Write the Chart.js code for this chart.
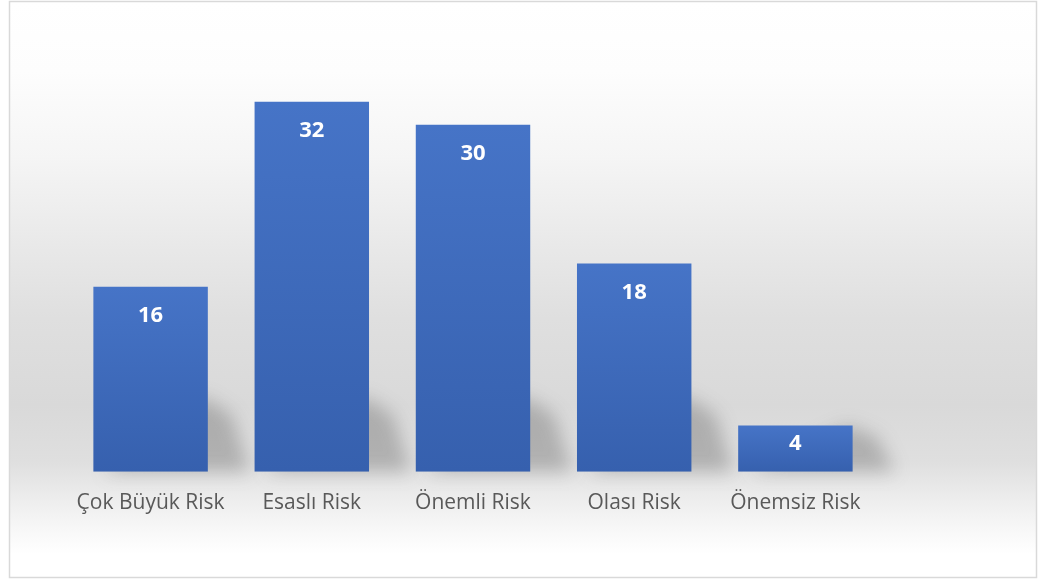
<!DOCTYPE html>
<html>
<head>
<meta charset="utf-8">
<script src="https://cdn.jsdelivr.net/npm/chart.js@4"></script>
<style>
    body { margin: 0; background: #fff; }
    #wrap { width: 1038px; height: 581px; }
</style>
</head>
<body>
<div id="wrap"><canvas id="riskChart" width="1038" height="581"></canvas></div>
<script>
// Chart data
const categories = ['Çok Büyük Risk', 'Esaslı Risk', 'Önemli Risk', 'Olası Risk', 'Önemsiz Risk'];
const riskCounts = [16, 32, 30, 18, 4];
const yMax = 35;

/**
 * Framed panel with a soft grey band behind the bars
 */
const panelBackground = {
    id: 'panelBackground',
    beforeDraw(chart) {
        const ctx = chart.ctx;
        ctx.save();
        ctx.fillStyle = '#ffffff';
        ctx.fillRect(0, 0, chart.width, chart.height);

        const g = ctx.createLinearGradient(0, 2, 0, 577);
        g.addColorStop(0, '#ffffff');
        g.addColorStop(0.12, '#fdfdfd');
        g.addColorStop(0.27, '#f5f5f5');
        g.addColorStop(0.42, '#e9e9e9');
        g.addColorStop(0.55, '#dfdfdf');
        g.addColorStop(0.7, '#d9d9d9');
        g.addColorStop(0.8, '#dfdfdf');
        g.addColorStop(0.86, '#ececec');
        g.addColorStop(0.92, '#f8f8f8');
        g.addColorStop(0.96, '#ffffff');
        g.addColorStop(1, '#ffffff');
        ctx.fillStyle = g;
        ctx.fillRect(10, 2, 1026, 575);

        ctx.strokeStyle = '#d9d9d9';
        ctx.lineWidth = 1.5;
        ctx.strokeRect(9.5, 1.5, 1027, 576);
        ctx.restore();
    }
};

/**
 * Cast shadow behind each bar (drawn before the bars)
 */
const barShadows = {
    id: 'barShadows',
    beforeDatasetsDraw(chart) {
        const ctx = chart.ctx;
        const meta = chart.getDatasetMeta(0);
        ctx.save();
        ctx.filter = 'blur(9px)';
        ctx.fillStyle = 'rgba(70, 70, 70, 0.3)';
        meta.data.forEach(bar => {
            const left = bar.x - bar.width / 2;
            const right = bar.x + bar.width / 2;
            const h = Math.min(bar.base - bar.y, 75);
            ctx.beginPath();
            ctx.moveTo(left + 10, bar.base);
            ctx.lineTo(right + 42, bar.base);
            ctx.lineTo(right + 24, bar.base - h * 0.75);
            ctx.lineTo(right - 5, bar.base - h);
            ctx.closePath();
            ctx.fill();
        });
        ctx.restore();
    }
};

/**
 * Value labels inside the top of each bar
 */
const valueLabels = {
    id: 'valueLabels',
    afterDatasetsDraw(chart) {
        const ctx = chart.ctx;
        const meta = chart.getDatasetMeta(0);
        ctx.save();
        ctx.fillStyle = '#ffffff';
        ctx.font = 'bold 22px "Open Sans"';
        ctx.textAlign = 'center';
        ctx.textBaseline = 'middle';
        meta.data.forEach((bar, i) => {
            const offset = Math.min(29, (bar.base - bar.y) * 0.4);
            ctx.fillText(String(riskCounts[i]), bar.x, bar.y + offset);
        });
        ctx.restore();
    }
};

function barGradient(context) {
    const chart = context.chart;
    if (!chart.chartArea) return '#4472c4';
    const yScale = chart.scales.y;
    const top = yScale.getPixelForValue(riskCounts[context.dataIndex]);
    const bottom = yScale.getPixelForValue(0);
    const g = chart.ctx.createLinearGradient(0, top, 0, bottom);
    g.addColorStop(0, '#4674c7');
    g.addColorStop(1, '#3660ae');
    return g;
}

const ctx = document.getElementById('riskChart').getContext('2d');
new Chart(ctx, {
    type: 'bar',
    data: {
        labels: categories,
        datasets: [{
            data: riskCounts,
            backgroundColor: barGradient,
            borderWidth: 0,
            categoryPercentage: 1,
            barPercentage: 0.71
        }]
    },
    options: {
        responsive: false,
        animation: false,
        layout: {
            padding: { left: 70, right: 162, top: 67, bottom: 46 }
        },
        scales: {
            x: {
                grid: { display: false, drawTicks: false },
                border: { display: false },
                ticks: {
                    color: '#595959',
                    padding: 19,
                    font: { family: '"Open Sans"', size: 21 }
                }
            },
            y: {
                display: false,
                min: 0,
                max: yMax
            }
        },
        plugins: {
            legend: { display: false },
            tooltip: { enabled: false }
        }
    },
    plugins: [panelBackground, barShadows, valueLabels]
});
</script>
</body>
</html>
